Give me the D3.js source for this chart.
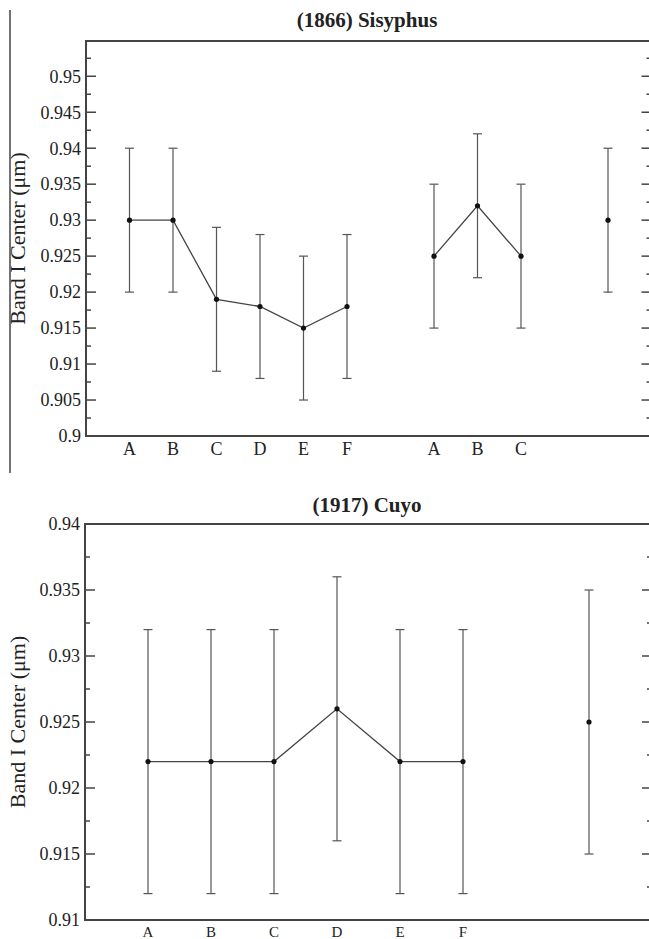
<!DOCTYPE html>
<html>
<head>
<meta charset="utf-8">
<script src="https://cdn.jsdelivr.net/npm/d3@7"></script>
<style>
  body { margin: 0; background: #fff; }
  svg text { font-family: "Liberation Serif", "DejaVu Serif", serif; fill: #222; }
</style>
</head>
<body>
<script>
// canvas size
var w = 649;
var h = 939;

// (1866) Sisyphus data
var sisLabels = ["A", "B", "C", "D", "E", "F", "A", "B", "C", ""];
var sisSlots = [1, 2, 3, 4, 5, 6, 8, 9, 10, 12];
var sisCenter = [0.930, 0.930, 0.919, 0.918, 0.915, 0.918, 0.925, 0.932, 0.925, 0.930];
var sisErr = [0.01, 0.01, 0.01, 0.01, 0.01, 0.01, 0.01, 0.01, 0.01, 0.01];
var sisGroups = [[0, 1, 2, 3, 4, 5], [6, 7, 8], [9]];
var sisTicks = [0.9, 0.905, 0.91, 0.915, 0.92, 0.925, 0.93, 0.935, 0.94, 0.945, 0.95];

// (1917) Cuyo data
var cuyoLabels = ["A", "B", "C", "D", "E", "F", ""];
var cuyoSlots = [1, 2, 3, 4, 5, 6, 8];
var cuyoCenter = [0.922, 0.922, 0.922, 0.926, 0.922, 0.922, 0.925];
var cuyoErr = [0.01, 0.01, 0.01, 0.01, 0.01, 0.01, 0.01];
var cuyoGroups = [[0, 1, 2, 3, 4, 5], [6]];
var cuyoTicks = [0.91, 0.915, 0.92, 0.925, 0.93, 0.935, 0.94];

var svg = d3.select("body")
  .append("svg")
  .attr("width", w)
  .attr("height", h);

var ink = "#444";

// the thin rule on the far left of the top figure
svg.append("line")
  .attr("x1", 10).attr("x2", 10)
  .attr("y1", 10).attr("y2", 473)
  .style("stroke", ink)
  .style("stroke-width", 1.5);

function drawPanel(p) {
  var x = d3.scaleLinear().domain([0, p.xmax]).range([p.left, p.right]);
  var y = d3.scaleLinear().domain(p.ydomain).range([p.bottom, p.top]);
  var g = svg.append("g");

  // minor ticks every 0.0025 on left and right
  var minor = d3.range(p.ydomain[0], p.ydomain[1] + 1e-9, 0.0025);
  minor.forEach(function(v) {
    var major = Math.abs(Math.round(v / 0.005) * 0.005 - v) < 1e-7;
    var len = major ? 10 : 5;
    g.append("line")
      .attr("x1", p.left).attr("x2", p.left + len)
      .attr("y1", y(v)).attr("y2", y(v))
      .style("stroke", ink).style("stroke-width", 1.5);
    g.append("line")
      .attr("x1", p.right).attr("x2", p.right - len)
      .attr("y1", y(v)).attr("y2", y(v))
      .style("stroke", ink).style("stroke-width", 1.5);
  });

  // tick labels
  g.selectAll(".yl")
    .data(p.ticks)
    .enter().append("text")
    .attr("x", p.left - 5)
    .attr("y", function(d) { return y(d); })
    .attr("dy", "0.35em")
    .attr("text-anchor", "end")
    .style("font-size", p.tickFont + "px")
    .text(function(d) { return String(+d.toFixed(3)); });

  // frame
  g.append("rect")
    .attr("x", p.left).attr("y", p.top)
    .attr("width", p.right - p.left).attr("height", p.bottom - p.top)
    .style("fill", "none").style("stroke", ink).style("stroke-width", 2);

  // error bars
  var cap = 4.5;
  p.slots.forEach(function(s, i) {
    var cx = x(s);
    var lo = y(p.center[i] - p.err[i]);
    var hi = y(p.center[i] + p.err[i]);
    g.append("line").attr("x1", cx).attr("x2", cx).attr("y1", lo).attr("y2", hi)
      .style("stroke", "#555").style("stroke-width", 1.2);
    g.append("line").attr("x1", cx - cap).attr("x2", cx + cap).attr("y1", lo).attr("y2", lo)
      .style("stroke", "#555").style("stroke-width", 1.2);
    g.append("line").attr("x1", cx - cap).attr("x2", cx + cap).attr("y1", hi).attr("y2", hi)
      .style("stroke", "#555").style("stroke-width", 1.2);
  });

  // connecting lines
  var line = d3.line()
    .x(function(i) { return x(p.slots[i]); })
    .y(function(i) { return y(p.center[i]); });
  p.groups.forEach(function(grp) {
    if (grp.length < 2) return;
    g.append("path").attr("d", line(grp))
      .style("fill", "none").style("stroke", "#444").style("stroke-width", 1.3);
  });

  // points
  g.selectAll(".pt")
    .data(p.slots)
    .enter().append("circle")
    .attr("cx", function(s) { return x(s); })
    .attr("cy", function(s, i) { return y(p.center[i]); })
    .attr("r", 2.6)
    .style("fill", "#111");

  // category labels
  g.selectAll(".xl")
    .data(p.slots)
    .enter().append("text")
    .attr("x", function(s) { return x(s); })
    .attr("y", p.labelY)
    .attr("text-anchor", "middle")
    .style("font-size", p.labelFont + "px")
    .text(function(s, i) { return p.labels[i]; });

  // title
  g.append("text")
    .attr("x", 367).attr("y", p.titleY)
    .attr("text-anchor", "middle")
    .style("font-size", "21px")
    .style("font-weight", "bold")
    .text(p.title);

  // y axis title
  g.append("text")
    .attr("transform", "translate(" + p.ylabX + "," + ((p.top + p.bottom) / 2) + ") rotate(-90)")
    .attr("text-anchor", "middle")
    .style("font-size", "22px")
    .text("Band I Center (μm)");
}

drawPanel({
  title: "(1866) Sisyphus", titleY: 27,
  left: 86, right: 651.5, top: 41, bottom: 436, xmax: 13,
  ydomain: [0.9, 0.9549], ticks: sisTicks,
  slots: sisSlots, center: sisCenter, err: sisErr, groups: sisGroups, labels: sisLabels,
  labelY: 455, labelFont: 18, tickFont: 18, ylabX: 25
});

drawPanel({
  title: "(1917) Cuyo", titleY: 512,
  left: 85, right: 652, top: 524, bottom: 920, xmax: 9,
  ydomain: [0.91, 0.94], ticks: cuyoTicks,
  slots: cuyoSlots, center: cuyoCenter, err: cuyoErr, groups: cuyoGroups, labels: cuyoLabels,
  labelY: 937, labelFont: 15, tickFont: 18, ylabX: 25
});
</script>
</body>
</html>
